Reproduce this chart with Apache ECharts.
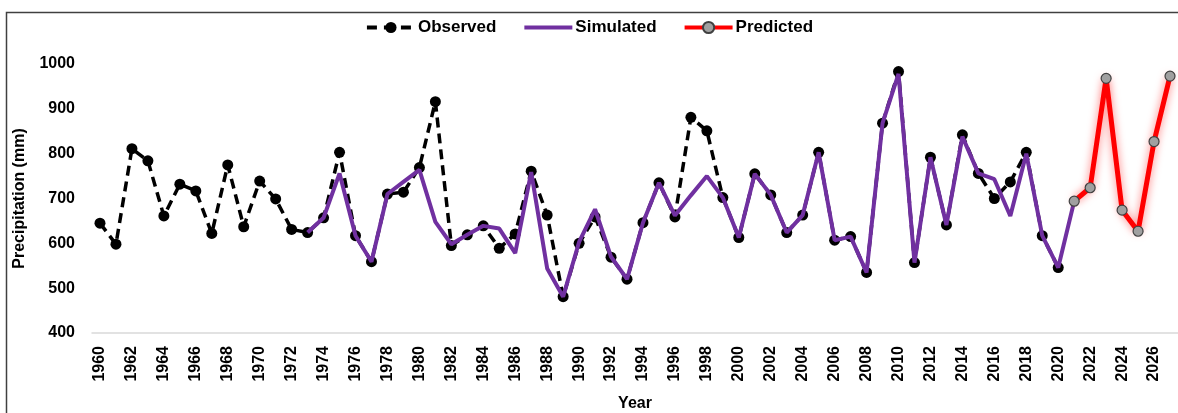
<!DOCTYPE html>
<html>
<head>
<meta charset="utf-8">
<script src="https://cdn.jsdelivr.net/npm/echarts@6/dist/echarts.min.js"></script>
<style>html,body{margin:0;padding:0;background:#fff}#c{width:1178px;height:413px}</style>
</head>
<body>
<div id="c"></div>
<script>
const years = [];
for (let y = 1960; y <= 2027; y++) years.push(String(y));

const observed = [645,598,811,784,661,732,717,622,775,637,739,699,631,624,657,803,617,559,710,714,769,916,595,619,639,589,621,761,663,481,600,659,569,520,646,735,659,881,851,702,613,755,708,624,663,803,607,615,535,868,983,557,792,641,842,756,700,737,803,617,546];
const observedStart = 1960;

const simulated = [624,657,756,617,559,710,737,764,648,598,619,639,633,578,759,544,481,603,676,570,520,646,735,662,707,750,702,613,755,708,624,663,803,607,615,535,868,978,557,792,641,838,756,743,661,800,617,546,694];
const simulatedStart = 1973;

const predicted = [694,724,968,674,627,827,973];
const predictedStart = 2021;

const yTicks = [400,500,600,700,800,900,1000];

function place(values, start) {
  return years.map(y => {
    const i = Number(y) - start;
    return (i >= 0 && i < values.length) ? values[i] : null;
  });
}

const font = 'Liberation Sans, Arial, sans-serif';
const chart = echarts.init(document.getElementById('c'));
chart.setOption({
  animation: false,
  backgroundColor: '#fff',
  graphic: [{
    type: 'rect', silent: true, z: 0,
    shape: { x: 6.5, y: 12.5, width: 1300, height: 600 },
    style: { fill: null, stroke: '#404040', lineWidth: 1.5 }
  }],
  legend: {
    top: 14, left: 'center',
    itemWidth: 48, itemHeight: 14, itemGap: 26,
    textStyle: { fontFamily: font, fontWeight: 'bold', fontSize: 17, color: '#000', padding: [0, 0, 0, -2] },
    data: [
      { name: 'Observed', lineStyle: { width: 4, type: [10, 7] }, itemStyle: { color: '#000' } },
      { name: 'Simulated', lineStyle: { width: 4 }, itemStyle: { opacity: 0 } },
      { name: 'Predicted', lineStyle: { width: 4 } }
    ]
  },
  grid: { left: 92, right: 0, top: 64, bottom: 80, containLabel: false, outerBoundsMode: 'none' },
  xAxis: {
    type: 'category', data: years, boundaryGap: true,
    name: 'Year', nameLocation: 'middle', nameGap: 63,
    nameTextStyle: { fontFamily: font, fontWeight: 'bold', fontSize: 16, color: '#000' },
    axisLine: { lineStyle: { color: '#d9d9d9', width: 1.5 } },
    axisTick: { show: false },
    axisLabel: { interval: 1, rotate: 90, margin: 13, fontFamily: font, fontWeight: 'bold', fontSize: 16, color: '#000' }
  },
  yAxis: {
    type: 'value', min: 400, max: 1000, interval: 100,
    name: 'Precipitation (mm)', nameLocation: 'middle', nameGap: 64,
    nameTextStyle: { fontFamily: font, fontWeight: 'bold', fontSize: 16, color: '#000' },
    axisLine: { show: false }, axisTick: { show: false },
    splitLine: { show: false },
    axisLabel: { margin: 17, fontFamily: font, fontWeight: 'bold', fontSize: 16, color: '#000',
      formatter: v => yTicks.includes(v) ? String(v) : '' }
  },
  series: [
    {
      name: 'Observed', type: 'line', data: place(observed, observedStart),
      symbol: 'circle', symbolSize: 11, showAllSymbol: true, z: 2,
      itemStyle: { color: '#000' },
      lineStyle: { color: '#000', width: 3.5, type: [10, 6] }
    },
    {
      name: 'Simulated', type: 'line', data: place(simulated, simulatedStart),
      symbol: 'none', z: 3,
      itemStyle: { color: '#7030A0' },
      lineStyle: { color: '#7030A0', width: 4 }
    },
    {
      name: 'Predicted', type: 'line', data: place(predicted, predictedStart),
      symbol: 'circle', symbolSize: 10, showAllSymbol: true, z: 4,
      itemStyle: { color: '#a0a0a0', borderColor: '#404040', borderWidth: 1.2 },
      lineStyle: { color: '#ff0000', width: 5, shadowColor: 'rgba(255,0,0,0.55)', shadowBlur: 8 }
    }
  ]
});
</script>
</body>
</html>
